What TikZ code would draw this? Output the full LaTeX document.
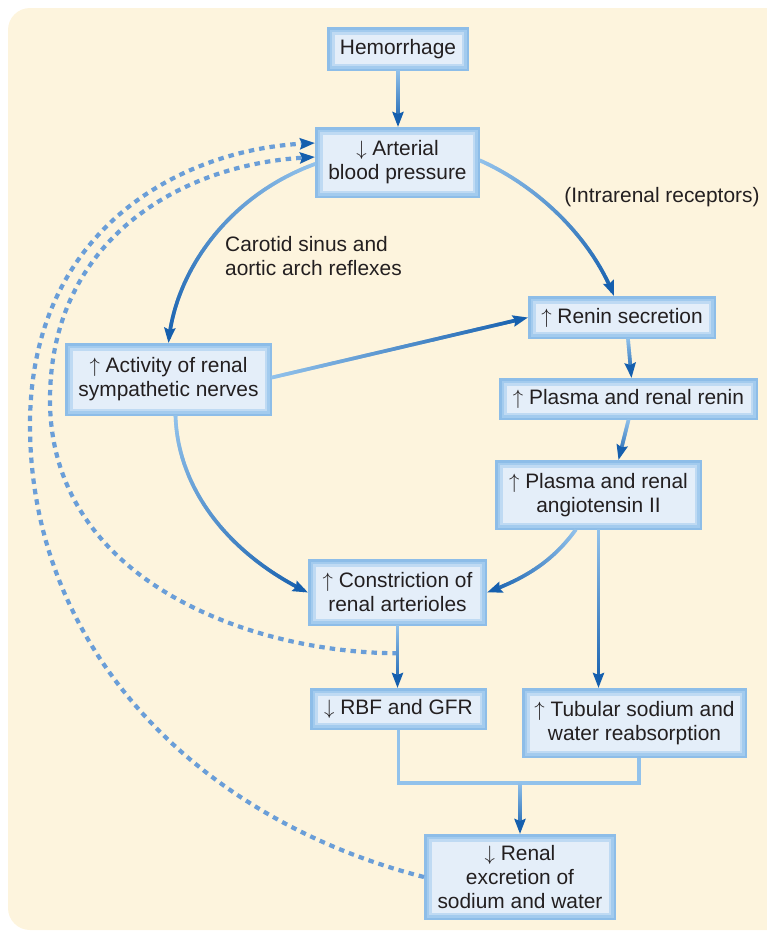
\documentclass[tikz,border=0pt]{standalone}
\usepackage{fontspec}
\setmainfont{Liberation Sans}
\usetikzlibrary{arrows.meta,decorations.markings,calc}

\definecolor{bgc}{HTML}{FDF4DD}
\definecolor{rimA}{HTML}{8DBDE8}
\definecolor{rimB}{HTML}{A3CBEE}
\definecolor{rimC}{HTML}{BFDAF3}
\definecolor{boxin}{HTML}{E4EEF9}
\definecolor{alight}{HTML}{92C2EB}
\definecolor{adark}{HTML}{155FAE}
\definecolor{dotc}{HTML}{6A9ED8}
\definecolor{txt}{HTML}{231F20}

\tikzset{
  basefont/.style={font=\fontsize{20.9}{24}\selectfont, text=txt},
  flowbox/.style={rectangle, basefont, inner sep=0pt, outer sep=0pt, fill=rimA, align=center,
    path picture={
      \fill[rimB] ([shift={(2.5pt,2.5pt)}]path picture bounding box.south west)
        rectangle ([shift={(-2.5pt,-2.5pt)}]path picture bounding box.north east);
      \fill[rimC] ([shift={(5pt,5pt)}]path picture bounding box.south west)
        rectangle ([shift={(-5pt,-5pt)}]path picture bounding box.north east);
      \fill[boxin] ([shift={(7.5pt,7.5pt)}]path picture bounding box.south west)
        rectangle ([shift={(-7.5pt,-7.5pt)}]path picture bounding box.north east);
    }},
  lbl/.style={basefont, inner sep=0pt},
  tipstyle/.style={-{Stealth[length=15pt,width=11pt,inset=2pt,color=adark]}},
  % a connector whose colour runs from light to dark, ending in a tip
  flow/.style={draw=none,
    postaction={decorate, decoration={markings,
      mark=between positions 0 and -6pt step 1pt with {
        \pgfmathsetmacro\gf{min(100,100*(\pgfkeysvalueof{/pgf/decoration/mark info/distance from start}/\pgfdecoratedpathlength))}
        \fill[adark!\gf!alight] (-0.8pt,-1.8pt) rectangle (0.8pt,1.8pt);
      }}},
    postaction={draw=adark, line width=3.6pt, dash pattern=on 0pt off 10000pt, tipstyle}},
  conn/.style={line width=3.6pt, alight},
  dotline/.style={line width=4.2pt, dotc, dash pattern=on 5.5pt off 5pt, tipstyle},
}

\begin{document}
\begin{tikzpicture}[x=1pt,y=-1pt]
  \useasboundingbox (0,0) rectangle (767,932);
  \fill[bgc, rounded corners=22pt] (8,8) rectangle (800,930);

  % boxes
  \node[flowbox, minimum width=142pt, minimum height=44pt] (hem) at (398,49) {Hemorrhage};
  \node[flowbox, minimum width=165pt, minimum height=71pt] (art) at (397.5,162.5) {$\downarrow$ Arterial\\blood pressure};
  \node[flowbox, minimum width=188pt, minimum height=43pt] (renin) at (622,317.5) {$\uparrow$ Renin secretion};
  \node[flowbox, minimum width=207pt, minimum height=73pt] (act) at (168.5,379.5) {$\uparrow$ Activity of renal\\sympathetic nerves};
  \node[flowbox, minimum width=259pt, minimum height=42pt] (prenin) at (628.5,399) {$\uparrow$ Plasma and renal renin};
  \node[flowbox, minimum width=207pt, minimum height=70pt] (angio) at (598.5,495) {$\uparrow$ Plasma and renal\\angiotensin II};
  \node[flowbox, minimum width=179pt, minimum height=67pt] (constr) at (397.5,592.5) {$\uparrow$ Constriction of\\renal arterioles};
  \node[flowbox, minimum width=177pt, minimum height=42pt] (rbf) at (398.5,709) {$\downarrow$ RBF and GFR};
  \node[flowbox, minimum width=225pt, minimum height=70pt] (tub) at (634.5,723) {$\uparrow$ Tubular sodium and\\water reabsorption};
  \node[flowbox, minimum width=192pt, minimum height=86pt] (renal) at (520,877) {$\downarrow$ Renal\\excretion of\\sodium and water};

  % labels
  \node[lbl, anchor=west, align=left] (carotid) at (225,256.5) {Carotid sinus and\\aortic arch reflexes};
  \node[lbl] (intra) at (662,197) {(Intrarenal receptors)};

  % helper points
  \coordinate (tap) at ($(constr.south)!0.44!(rbf.north)$);
  \coordinate (mj) at (520,783);

  % dotted feedback paths
  \draw[dotline] (renal.west) .. controls (200,820) and (30,650) .. (30,425)
        .. controls (30,230) and (180,150) .. ([yshift=19.5pt]art.west);
  \draw[dotline] (tap) .. controls (250,653) and (50,580) .. (50,400)
        .. controls (50,240) and (180,165) .. ([yshift=5.5pt]art.west);

  % solid arrows
  \draw[flow] (hem.south) -- (hem.south |- art.north);
  \draw[flow] ([yshift=2pt]art.east) .. controls (535,185) and (590,235) .. ([xshift=-8pt]renin.north);
  \draw[flow] ([yshift=-1.5pt]art.west) .. controls (230,195) and (175,270) .. (act.north);
  \draw[flow] ([yshift=2pt]act.east) -- (renin.west);
  \draw[flow] ([xshift=7pt]act.south) .. controls (178,490) and (230,555) .. (constr.west);
  \draw[flow] ([xshift=6pt]renin.south) -- ([xshift=3pt]prenin.north);
  \draw[flow] (prenin.south) -- ([xshift=20pt]angio.north);
  \draw[flow] ([xshift=-23pt]angio.south) .. controls (550,565) and (520,580) .. (constr.east);
  \draw[flow] (angio.south) -- (angio.south |- tub.north);
  \draw[flow] (constr.south) -- (constr.south |- rbf.north);

  % merge into excretion
  \draw[conn] (rbf.south) -- (rbf.south |- mj) -- ([xshift=4.5pt]tub.south |- mj) -- ([xshift=4.5pt]tub.south);
  \draw[flow] (mj) -- (renal.north);
\end{tikzpicture}
\end{document}
